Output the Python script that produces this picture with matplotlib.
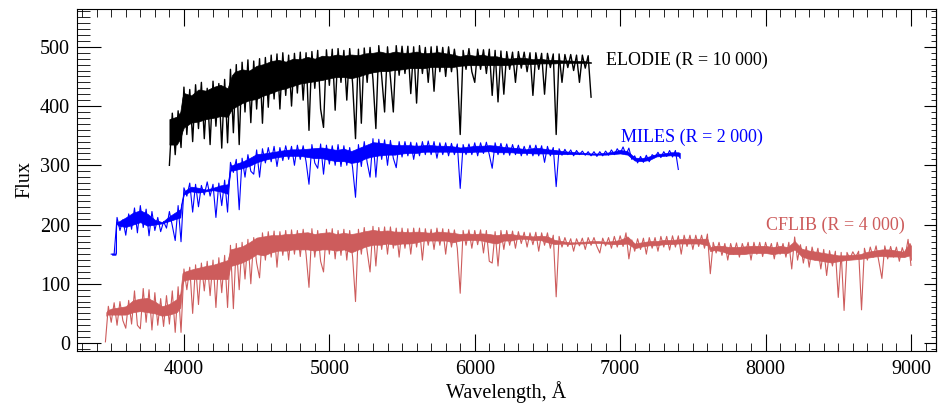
import numpy as np
import matplotlib
matplotlib.use('Agg')
import matplotlib.pyplot as plt
from matplotlib.ticker import MultipleLocator

plt.rcParams['font.family'] = ['Liberation Serif', 'DejaVu Serif']

elodie_wl = np.arange(3900, 6801, 20)
elodie_flux = [300, 388, 318, 392, 330,
               432, 352, 428, 340, 436, 362, 440, 345, 430, 335, 442, 366, 438, 329, 445,
               338, 462, 355,
               470, 335, 474, 390, 478, 372, 476, 395, 480, 371, 482, 398,
               486, 412, 488, 395, 490, 418, 486, 400, 489, 422, 491, 410, 490,
               359, 492, 430, 494, 395, 364, 495, 435, 496, 393, 497, 440, 494, 410, 497, 438,
               345, 496, 371, 498, 440, 499, 445,
               362, 502, 450, 390, 500, 448, 390, 502, 452, 501,
               455, 501, 421, 500, 405, 502, 455, 499, 440, 500, 425, 501, 458, 499, 450,
               500, 458, 496, 460,
               352,
               494, 462, 497, 458, 440, 496, 462, 495, 455, 496, 418, 494, 407, 493, 420,
               492, 462, 491, 440, 492, 464, 491, 458, 490, 418, 490, 462, 489, 420, 489,
               465, 488,
               352,
               488, 440, 487, 465, 487, 460, 486, 440, 486, 464, 485, 415]

# dense core of the ELODIE band
elodie_core_wl = [3900, 3950, 3975, 3990, 4000, 4050, 4100, 4150, 4200, 4250, 4300, 4330, 4350,
                  4400, 4450, 4500, 4550, 4600, 4650, 4700, 4750, 4800, 4850, 4900, 4950,
                  5000, 5050, 5100, 5150, 5200, 5250, 5300, 5350, 5400, 5450, 5500, 5550,
                  5600, 5650, 5700, 5750, 5800, 5850, 5900, 5950, 6000, 6050, 6100, 6150,
                  6200, 6250, 6300, 6350, 6400, 6450, 6500, 6550, 6600, 6650, 6700, 6750, 6800]
elodie_core_top = [378, 382, 390, 415, 422, 418, 428, 426, 432, 436, 430, 452, 458,
                   462, 460, 468, 471, 476, 478, 475, 480, 479, 483, 480, 485,
                   484, 487, 485, 487, 486, 489, 490, 492, 489, 492, 490, 490,
                   492, 489, 490, 491, 489, 487, 484, 487, 485, 487, 484, 484,
                   481, 480, 482, 481, 479, 480, 478, 478, 477, 477, 476, 476, 474]
elodie_core_bot = [335, 335, 345, 358, 364, 372, 374, 378, 380, 383, 382, 395, 398,
                   405, 410, 412, 418, 422, 427, 430, 434, 438, 440, 442, 444,
                   447, 449, 449, 447, 450, 454, 457, 459, 459, 461, 462, 464,
                   464, 464, 466, 466, 466, 466, 468, 469, 469, 469, 469, 469,
                   469, 470, 471, 471, 471, 472, 472, 472, 473, 473, 473, 473, 473]

miles_wl = np.arange(3500, 7401, 20)
miles_flux = [150, 150,
              212, 190, 208, 182, 218, 192, 228, 186, 232, 195, 226, 181, 222, 190, 212,
              188, 205, 194, 222, 198, 173, 232,
              171,
              262, 248, 270, 221, 268, 230, 266, 250, 272, 248, 268, 212, 270, 232, 275, 221,
              305, 288, 310, 225, 312, 280, 318, 290,
              285, 326, 280, 328, 304, 330, 306, 332, 298, 330, 308, 333, 310, 332, 300,
              334, 310, 333, 306,
              268,
              335, 304, 295, 336, 285, 334, 302, 333, 300, 335, 298, 333, 300, 330, 296,
              246,
              335, 298, 340, 305, 280, 345, 280, 344, 310, 343, 300, 342, 312, 296, 340,
              314, 340, 316, 339, 310, 338, 316, 340, 318, 341, 318, 340, 312, 338, 318,
              338, 316, 337, 318, 336,
              261,
              335, 318, 336, 318, 338, 316, 338, 320, 339, 318, 295, 338, 318, 337, 318,
              336, 317, 335, 318, 334, 316, 332, 317, 334, 316, 334, 316, 333, 305, 332,
              316, 330,
              264,
              328, 317, 327, 318, 326, 316, 325, 318, 324, 317, 323, 316, 323, 315, 323,
              316, 324, 317, 326, 318, 328, 320, 331, 318, 329,
              310, 316, 304, 315, 305, 317, 306, 318,
              314, 322, 313, 323, 315, 325, 314, 325, 293]

miles_core_wl = [3505, 3530, 3535, 3550, 3600, 3650, 3700, 3750, 3800, 3850, 3900, 3950, 3975,
                 3985, 4000, 4050, 4100, 4150, 4200, 4250, 4300, 4320, 4350, 4400, 4450, 4500,
                 4550, 4600, 4650, 4700, 4750, 4800, 4850, 4900, 4950, 5000, 5050, 5100, 5150,
                 5200, 5250, 5300, 5350, 5400, 5450, 5500, 5550, 5600, 5650, 5700, 5750, 5800,
                 5850, 5900, 5950, 6000, 6050, 6100, 6150, 6200, 6250, 6300, 6350, 6400, 6450,
                 6500, 6550, 6600, 6650, 6700, 6750, 6800, 6850, 6900, 6950, 7000, 7050, 7100,
                 7150, 7200, 7250, 7300, 7350, 7400, 7410]
miles_core_top = [151, 151, 205, 205, 212, 220, 224, 218, 208, 204, 214, 222, 226,
                  240, 256, 264, 262, 259, 262, 266, 268, 299, 302, 306, 312, 319,
                  320, 322, 324, 326, 327, 327, 328, 329, 330, 328, 326, 328, 324,
                  329, 334, 339, 338, 336, 334, 334, 334, 333, 334, 334, 333, 333,
                  332, 330, 331, 333, 333, 334, 333, 331, 330, 329, 327, 329, 329,
                  327, 326, 324, 323, 322, 321, 320, 320, 321, 323, 326, 324, 313,
                  312, 315, 319, 320, 322, 322, 321]
miles_core_bot = [149, 149, 202, 198, 196, 200, 204, 198, 200, 202, 206, 210, 212,
                  236, 251, 256, 254, 256, 258, 256, 252, 291, 292, 295, 299, 305,
                  309, 312, 314, 316, 316, 316, 314, 312, 312, 309, 307, 307, 304,
                  306, 312, 315, 317, 318, 318, 320, 321, 321, 323, 323, 323, 323,
                  323, 322, 322, 323, 323, 324, 322, 322, 322, 321, 321, 320, 320,
                  320, 319, 319, 319, 319, 319, 318, 318, 318, 319, 320, 318, 308,
                  307, 309, 315, 316, 317, 316, 312]

cflib_wl = np.arange(3460, 9001, 20)
cflib_flux = [2,
              62, 35, 68, 30, 70, 38, 25, 72, 32,
              88, 30, 24, 92, 35, 90, 22, 85,
              30, 75, 28, 80, 32, 88, 18, 95, 18,
              125, 90, 128, 50, 132, 65, 135, 88, 138, 80, 140, 60, 144, 85, 148, 60,
              165, 58, 168, 90, 170, 108, 175, 100, 178,
              135, 110, 186, 140, 188, 145, 189, 128, 188, 148, 190, 140, 191, 150, 190,
              146, 192, 150,
              94,
              193, 145, 190, 138, 120, 192, 150, 193, 142, 190, 148, 192, 140, 190, 145,
              70,
              192, 150, 195, 155, 120, 197, 130, 195, 158, 196, 150, 196, 160, 194, 145,
              194, 160, 193, 150, 194, 162, 194, 140, 193, 165, 192, 158, 194, 165, 193,
              150, 192, 162, 191, 160,
              84,
              190, 165, 191, 160, 190, 166, 191, 152, 190, 138, 135, 188, 130, 190, 158,
              190, 165, 189, 160, 188, 168, 187, 162, 186, 166, 187, 155, 186, 165, 186,
              160, 182,
              78,
              180, 162, 178, 163, 176, 155, 176, 164, 177, 158, 178, 165, 178, 163, 152,
              177, 164, 178, 160, 180, 162, 181, 163, 186,
              142, 174, 155, 176, 158, 177, 150, 178, 160, 178, 155, 180, 162, 180, 157,
              181, 162, 181, 150, 182, 163, 182, 158, 182, 163, 182, 160,
              184, 117,
              170, 152, 170, 148, 168, 140, 168, 150, 169, 145, 168, 152, 170, 140, 170,
              150, 170, 146, 170, 152, 168, 142, 170, 150, 168, 145, 170,
              125, 179, 140,
              166, 135, 163, 128, 162, 140, 160, 125, 158, 114, 156, 130, 155,
              77, 153, 55,
              153, 142, 154, 145, 155,
              56,
              160, 140, 162, 145, 164, 136, 109, 164, 142, 163, 145, 162, 138, 161, 146, 175,
              131]

cflib_core_wl = [3466, 3475, 3500, 3550, 3600, 3650, 3700, 3750, 3800, 3850, 3900, 3950, 3975,
                 3990, 4000, 4050, 4100, 4150, 4200, 4250, 4300, 4320, 4350, 4400, 4450, 4500,
                 4550, 4600, 4650, 4700, 4750, 4800, 4850, 4900, 4950, 5000, 5050, 5100, 5150,
                 5200, 5250, 5300, 5350, 5400, 5450, 5500, 5550, 5600, 5650, 5700, 5750, 5800,
                 5850, 5900, 5950, 6000, 6050, 6100, 6150, 6200, 6250, 6300, 6350, 6400, 6450,
                 6500, 6550, 6600, 6650, 6700, 6750, 6800, 6850, 6900, 6950, 7000, 7050, 7100,
                 7150, 7200, 7250, 7300, 7350, 7400, 7450, 7500, 7550, 7600, 7620, 7650, 7700,
                 7750, 7800, 7850, 7900, 7950, 8000, 8050, 8100, 8150, 8200, 8250, 8300, 8350,
                 8400, 8450, 8500, 8550, 8600, 8650, 8700, 8750, 8800, 8850, 8900, 8950, 8990,
                 9000]
cflib_core_top = [52, 55, 58, 60, 62, 72, 75, 76, 70, 62, 66, 74, 84,
                  118, 120, 124, 127, 130, 132, 136, 140, 158, 160, 163, 170, 178,
                  180, 182, 182, 184, 184, 186, 187, 184, 186, 187, 184, 186, 184,
                  186, 189, 191, 189, 190, 188, 188, 187, 188, 187, 186, 188, 187,
                  186, 184, 185, 184, 185, 184, 182, 184, 184, 182, 181, 180, 181,
                  180, 174, 172, 170, 170, 171, 172, 172, 171, 172, 174, 180, 168,
                  170, 172, 172, 174, 174, 175, 176, 176, 176, 176, 162, 164, 164,
                  162, 162, 163, 164, 164, 164, 162, 164, 162, 172, 159, 156, 154,
                  152, 150, 148, 148, 149, 150, 154, 156, 158, 158, 156, 154, 169,
                  164]
cflib_core_bot = [46, 48, 48, 48, 48, 52, 54, 52, 50, 46, 48, 52, 60,
                  100, 106, 108, 108, 108, 108, 108, 108, 130, 132, 136, 142, 150,
                  148, 153, 156, 156, 158, 158, 158, 156, 158, 158, 156, 158, 153,
                  158, 163, 166, 166, 168, 166, 168, 168, 170, 173, 173, 173, 173,
                  170, 173, 174, 174, 173, 170, 168, 173, 173, 176, 176, 174, 174,
                  170, 167, 168, 167, 168, 168, 169, 169, 168, 167, 167, 168, 160,
                  163, 165, 165, 167, 167, 168, 168, 168, 168, 165, 155, 157, 155,
                  150, 150, 150, 152, 152, 152, 150, 152, 152, 158, 146, 142, 140,
                  138, 136, 138, 140, 141, 142, 144, 146, 147, 146, 146, 145, 148,
                  140]

red = '#cd5c5c'

fig, ax = plt.subplots(figsize=(9.38, 4.05), dpi=100)
fig.subplots_adjust(left=0.082, right=0.998, bottom=0.134, top=0.978)

ax.fill_between(elodie_core_wl, elodie_core_bot, elodie_core_top, color='black', lw=0.5)
ax.plot(elodie_wl, elodie_flux, color='black', lw=1.0)
ax.fill_between(miles_core_wl, miles_core_bot, miles_core_top, color='blue', lw=0.5)
ax.plot(miles_wl, miles_flux, color='blue', lw=0.8)
ax.fill_between(cflib_core_wl, cflib_core_bot, cflib_core_top, color=red, lw=0.5)
ax.plot(cflib_wl, cflib_flux, color=red, lw=0.8)

ax.text(6900, 478, 'ELODIE (R = 10 000)', color='black', fontsize=13, va='center')
ax.text(7005, 348, 'MILES (R = 2 000)', color='blue', fontsize=13, va='center')
ax.text(8003, 199, 'CFLIB (R = 4 000)', color=red, fontsize=13, va='center')

ax.set_xlim(3264, 9173)
ax.set_ylim(-13, 564)
ax.xaxis.set_major_locator(MultipleLocator(1000))
ax.xaxis.set_minor_locator(MultipleLocator(100))
ax.yaxis.set_major_locator(MultipleLocator(100))
ax.yaxis.set_minor_locator(MultipleLocator(10))
ax.tick_params(axis='x', which='both', direction='in', top=True, labelsize=14.5, pad=7)
ax.tick_params(axis='x', which='major', length=12)
ax.tick_params(axis='x', which='minor', length=5.8)
ax.tick_params(axis='y', which='major', direction='in', length=17, labelsize=14.5, pad=5)
ax.tick_params(axis='y', which='minor', direction='in', length=9.4)

right = ax.secondary_yaxis('right')
right.yaxis.set_major_locator(MultipleLocator(100))
right.yaxis.set_minor_locator(MultipleLocator(10))
right.tick_params(which='both', direction='in', labelright=False)
right.tick_params(which='major', length=8.6)
right.tick_params(which='minor', length=3.6)

ax.set_xlabel('Wavelength, Å', fontsize=14.5, labelpad=1)
ax.set_ylabel('Flux', fontsize=14.5, labelpad=4)

fig.savefig('out.png', dpi=100)
